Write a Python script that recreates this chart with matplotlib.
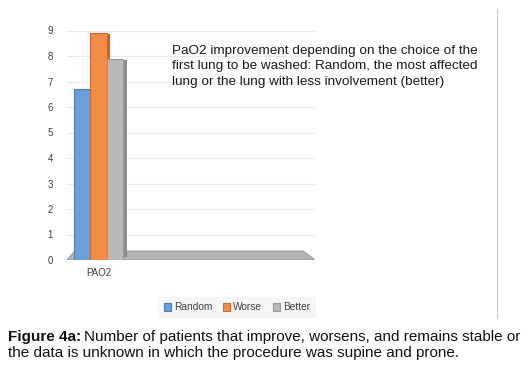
import matplotlib.pyplot as plt
from matplotlib.patches import Polygon
from matplotlib.lines import Line2D
import numpy as np

categories = ["PAO2"]
series_names = ["Random", "Worse", "Better"]
values = [6.7, 8.9, 7.9]
yticks = [0, 1, 2, 3, 4, 5, 6, 7, 8, 9]

face_colors = ["#6A9FD8", "#F28C47", "#B8B8B8"]
edge_colors = ["#4A7EBB", "#D0692A", "#9A9A9A"]
side_colors = ["#4F81BD", "#C8621F", "#8C8C8C"]

note = ("PaO2 improvement depending on the choice of the\n"
        "first lung to be washed: Random, the most affected\n"
        "lung or the lung with less involvement (better)")

plt.rcParams["font.family"] = ["Liberation Sans", "DejaVu Sans"]

fig = plt.figure(figsize=(5.31, 3.68), dpi=100)
W, H = 531, 368
ax = fig.add_axes([67 / W, 1 - 260 / H, 248 / W, 229.5 / H])

width = 0.22
x0 = np.arange(len(categories))
for i, (name, v) in enumerate(zip(series_names, values)):
    xc = x0 + (i - 1) * width
    # thin darker side face to fake the 3D look
    ax.bar(xc + width / 2 + 0.025, v - 0.15, width=0.05, bottom=0.1,
           color=side_colors[i], zorder=3 + i)
    ax.bar(xc, v, width=width, color=face_colors[i],
           edgecolor=edge_colors[i], linewidth=0.8, label=name, zorder=3 + i)

# grey floor
floor = Polygon([(0, 0), (8 / 248, 9 / 229.5), (236 / 248, 9 / 229.5), (1, 0)],
                closed=True, transform=ax.transAxes, facecolor="#B3B3B3",
                edgecolor="#9C9C9C", linewidth=0.8, zorder=2)
ax.add_patch(floor)

ax.set_xlim(-0.42, 2.887)
ax.set_ylim(0, 9)
ax.set_yticks(yticks)
ax.set_xticks(x0)
ax.set_xticklabels(categories)
ax.tick_params(axis="both", length=0, labelsize=7, colors="#404040")
ax.tick_params(axis="y", pad=10)
ax.tick_params(axis="x", pad=6)
for s in ax.spines.values():
    s.set_visible(False)
ax.yaxis.grid(True, color="#EAEAEA", linewidth=0.8, zorder=0)
ax.set_axisbelow(True)

fig.text(172 / W, 1 - 66.5 / H, note, fontsize=9.7, color="#1a1a1a",
         va="center", ha="left", linespacing=1.38)

leg = ax.legend(loc="center", bbox_to_anchor=((237 - 67) / 248, (260 - 307.5) / 229.5),
                ncol=3, fontsize=7.3, frameon=True, fancybox=False,
                handlelength=0.75, handleheight=0.75, handletextpad=0.3,
                columnspacing=1.0, borderpad=0.55)
leg.get_frame().set_facecolor("#F4F4F4")
leg.get_frame().set_edgecolor("none")
for t in leg.get_texts():
    t.set_color("#404040")

fig.add_artist(Line2D([497 / W, 497 / W], [1 - 9 / H, 1 - 318 / H],
                      color="#C8C8C8", linewidth=0.8, transform=fig.transFigure))

cap1 = fig.text(8 / W, 1 - 337 / H, "Figure 4a:", fontsize=11, fontweight="bold",
                va="center", ha="left", color="#111111")
fig.canvas.draw()
bb = cap1.get_window_extent()
fig.text(bb.x1 / W + 3 / W, 1 - 337 / H,
         "Number of patients that improve, worsens, and remains stable or",
         fontsize=11, va="center", ha="left", color="#111111")
fig.text(8 / W, 1 - 353.5 / H,
         "the data is unknown in which the procedure was supine and prone.",
         fontsize=11, va="center", ha="left", color="#111111")

fig.savefig("out.png", dpi=100)
